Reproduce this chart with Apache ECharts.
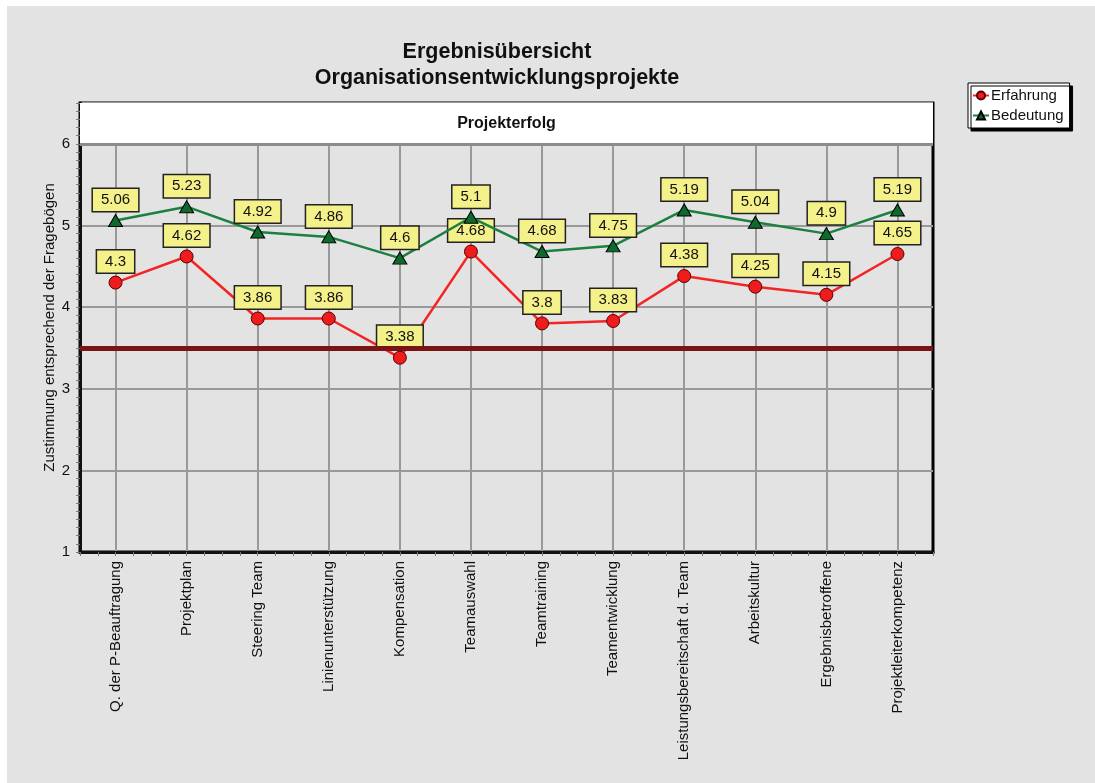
<!DOCTYPE html>
<html>
<head>
<meta charset="utf-8">
<script src="https://cdn.jsdelivr.net/npm/echarts@6/dist/echarts.min.js"></script>
<style>
  html, body { margin: 0; padding: 0; background: #fff; }
  #chart { width: 1095px; height: 783px; }
</style>
</head>
<body>
<div id="chart"></div>
<script>
const categories = [
    'Q. der P-Beauftragung', 'Projektplan', 'Steering Team', 'Linienunterstützung',
    'Kompensation', 'Teamauswahl', 'Teamtraining', 'Teamentwicklung',
    'Leistungsbereitschaft d. Team', 'Arbeitskultur', 'Ergebnisbetroffene', 'Projektleiterkompetenz'
];
const erfahrung = [4.3, 4.62, 3.86, 3.86, 3.38, 4.68, 3.8, 3.83, 4.38, 4.25, 4.15, 4.65];
const bedeutung = [5.06, 5.23, 4.92, 4.86, 4.6, 5.1, 4.68, 4.75, 5.19, 5.04, 4.9, 5.19];
const schwelle = 3.5;
const headerText = 'Projekterfolg';

const font = 'Arial, "Liberation Sans", sans-serif';

const chart = echarts.init(document.getElementById('chart'));

// gelbe Wertekästchen
const valueLabel = {
    show: true,
    position: 'top',
    distance: 3,
    fontFamily: font,
    fontSize: 15,
    lineHeight: 16,
    color: '#111',
    backgroundColor: '#f4f08a',
    borderColor: '#222',
    borderWidth: 1.5,
    padding: [3, 8]
};

const option = {
    backgroundColor: '#fff',
    animation: false,
    textStyle: {fontFamily: font},
    graphic: [{
        type: 'rect',
        z: -100,
        shape: {x: 7, y: 6, width: 1088, height: 777},
        style: {fill: '#e3e3e3'}
    }],
    title: {
        text: 'Ergebnisübersicht\nOrganisationsentwicklungsprojekte',
        left: 492,
        top: 34,
        textAlign: 'center',
        textStyle: {fontFamily: font, fontSize: 21.5, lineHeight: 26, fontWeight: 'bold', color: '#111'}
    },
    legend: {
        orient: 'vertical',
        left: 968,
        top: 83,
        padding: [5, 6, 5, 4],
        itemGap: 5,
        itemWidth: 16,
        itemHeight: 10,
        backgroundColor: '#fff',
        borderColor: '#000',
        borderWidth: 1,
        shadowColor: '#000',
        shadowOffsetX: 3,
        shadowOffsetY: 3,
        shadowBlur: 0,
        textStyle: {fontFamily: font, fontSize: 15, color: '#111', padding: [0, 0, 0, -3]},
        data: ['Erfahrung', 'Bedeutung']
    },
    grid: {
        left: 80,
        right: 162,
        top: 103,
        bottom: 231,
        show: true,
        borderColor: '#000',
        borderWidth: 3,
        backgroundColor: 'transparent'
    },
    xAxis: [{
        type: 'category',
        data: categories,
        boundaryGap: true,
        axisLine: {onZero: false, lineStyle: {color: '#111', width: 3}},
        axisTick: {alignWithLabel: true, length: 6, lineStyle: {color: '#888', width: 2}},
        splitLine: {show: true, alignWithLabel: true, lineStyle: {color: '#999', width: 2}},
        axisLabel: {
            rotate: 90,
            margin: 9,
            interval: 0,
            fontFamily: font,
            fontSize: 15,
            color: '#111'
        }
    }, {
        // kleine Striche zwischen den Kategorien
        type: 'value',
        position: 'bottom',
        min: -0.5,
        max: 11.5,
        interval: 0.25,
        axisLine: {show: false, onZero: false},
        axisTick: {show: true, length: 4, lineStyle: {color: '#777', width: 1}},
        axisLabel: {show: false},
        splitLine: {show: false}
    }],
    yAxis: [{
        type: 'value',
        min: 1,
        max: 6.5,
        interval: 1,
        name: 'Zustimmung entsprechend der Fragebögen',
        nameLocation: 'middle',
        nameGap: 23,
        nameMoveOverlap: false,
        nameTextStyle: {fontFamily: font, fontSize: 15, color: '#111'},
        axisLine: {show: true, onZero: false, lineStyle: {color: '#111', width: 3}},
        axisTick: {show: false},
        axisLabel: {showMaxLabel: false, margin: 10, fontFamily: font, fontSize: 15, color: '#111'},
        splitLine: {show: true, lineStyle: {color: '#999', width: 2}}
    }, {
        type: 'value',
        position: 'left',
        min: 1,
        max: 6.5,
        interval: 0.1,
        axisLine: {show: false, onZero: false},
        axisTick: {show: true, length: 4, lineStyle: {color: '#777', width: 1}},
        axisLabel: {show: false},
        splitLine: {show: false}
    }],
    series: [{
        name: 'Schwelle',
        type: 'line',
        data: [],
        z: 1,
        silent: true,
        markArea: {
            silent: true,
            itemStyle: {color: '#fff'},
            label: {
                show: true,
                position: 'inside',
                fontFamily: font,
                fontSize: 16,
                fontWeight: 'bold',
                color: '#111'
            },
            data: [[{yAxis: 6, name: headerText}, {yAxis: 6.5}]]
        },
        markLine: {
            silent: true,
            symbol: 'none',
            label: {show: false},
            data: [
                {yAxis: schwelle, lineStyle: {color: '#7a1414', width: 5, type: 'solid'}},
                {yAxis: 6, lineStyle: {color: '#8c8c8c', width: 3, type: 'solid'}}
            ]
        }
    }, {
        name: 'Erfahrung',
        type: 'line',
        data: erfahrung,
        z: 3,
        symbol: 'circle',
        symbolSize: 13,
        lineStyle: {color: '#f42424', width: 2.5},
        itemStyle: {color: '#ee1c1c', borderColor: '#5a0000', borderWidth: 1},
        label: valueLabel
    }, {
        name: 'Bedeutung',
        type: 'line',
        data: bedeutung,
        z: 4,
        symbol: 'triangle',
        symbolSize: [14, 12],
        lineStyle: {color: '#1b8040', width: 2.5},
        itemStyle: {color: '#0d6a2c', borderColor: '#000', borderWidth: 1},
        label: valueLabel
    }]
};

chart.setOption(option);
</script>
</body>
</html>
